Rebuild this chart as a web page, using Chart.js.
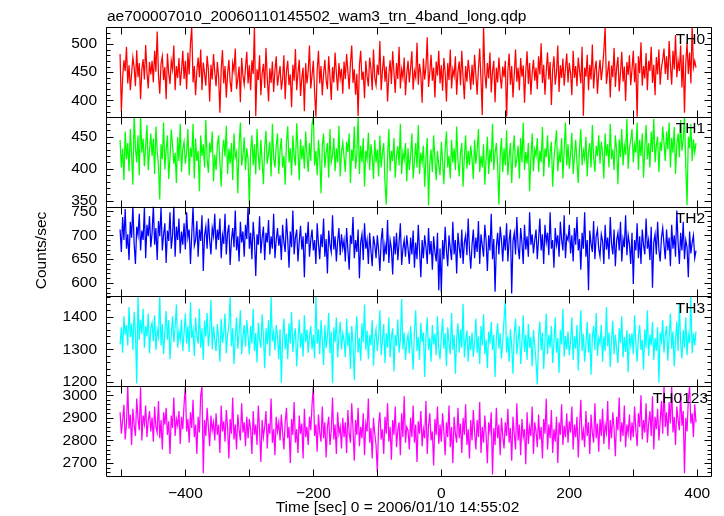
<!DOCTYPE html>
<html>
<head>
<meta charset="utf-8">
<title>ae700007010 wam3 trn 4band long</title>
<script src="https://cdn.jsdelivr.net/npm/chart.js@4.4.0/dist/chart.umd.min.js"></script>
<style>
  html, body { margin: 0; padding: 0; background: #fff; }
  #grafico { display: block; }
</style>
</head>
<body>
<canvas id="grafico" width="724" height="516"></canvas>
<script>
var titulo = 'ae700007010_20060110145502_wam3_trn_4band_long.qdp';
var rotuloX = 'Time [sec] 0 = 2006/01/10 14:55:02';
var rotuloY = 'Counts/sec';
var nomesBandas = ['TH0', 'TH1', 'TH2', 'TH3', 'TH0123'];

// first bin and bin width, sec
var tempoInicial = -502;
var passoTempo = 2;

var th0 = [
  482, 380, 440, 471, 452, 495, 430, 462, 418, 447, 476, 458, 425, 489, 441, 466, 402, 455, 473, 437, 498, 450, 421, 468, 446,
  470, 432, 488, 451, 522, 445, 412, 465, 478, 436, 459, 402, 483, 448, 429, 470, 455, 497, 418, 461, 440, 475, 426, 452, 488,
  438, 470, 420, 485, 446, 501, 530, 432, 461, 409, 452, 476, 441, 490, 418, 467, 448, 426, 479, 455, 398, 463, 437, 482, 450,
  425, 468, 442, 378, 455, 489, 430, 461, 405, 447, 472, 433, 415, 466, 452, 492, 420, 438, 460, 397, 475, 444, 428, 458, 486,
  430, 462, 418, 471, 447, 532, 372, 455, 436, 480, 409, 448, 465, 422, 493, 440, 398, 457, 431, 469, 415, 452, 478, 426, 444,
  461, 419, 438, 480, 402, 452, 470, 427, 446, 388, 463, 435, 491, 418, 449, 472, 408, 440, 458, 381, 466, 430, 452, 497, 421,
  445, 470, 415, 370, 452, 488, 430, 461, 409, 447, 472, 436, 420, 478, 443, 401, 459, 432, 485, 448, 417, 466, 439, 456, 412,
  469, 438, 482, 452, 420, 466, 497, 431, 455, 410, 447, 372, 462, 488, 436, 451, 404, 470, 443, 425, 476, 457, 418, 490, 440,
  427, 463, 445, 505, 418, 452, 479, 433, 460, 398, 446, 471, 429, 487, 450, 413, 466, 438, 495, 421, 455, 440, 476, 409, 448,
  470, 432, 458, 487, 419, 452, 441, 502, 428, 465, 446, 396, 474, 437, 460, 512, 424, 450, 481, 435, 458, 405, 469, 444, 488,
  430, 462, 417, 475, 449, 398, 466, 436, 490, 421, 455, 443, 478, 410, 452, 469, 427, 488, 440, 402, 461, 433, 472, 450, 419,
  463, 428, 481, 445, 410, 457, 492, 436, 374, 533, 448, 421, 466, 439, 485, 414, 452, 470, 397, 458, 432, 476, 443, 421, 460,
  441, 470, 366, 452, 483, 428, 461, 405, 446, 490, 433, 458, 418, 475, 442, 462, 396, 451, 487, 429, 466, 410, 449, 472, 435,
  458, 420, 478, 446, 501, 431, 463, 410, 452, 485, 437, 468, 392, 455, 478, 428, 449, 497, 415, 462, 440, 474, 426, 456, 483,
  432, 466, 448, 409, 488, 440, 461, 425, 476, 452, 430, 495, 373, 458, 442, 481, 418, 463, 437, 499, 421, 455, 470, 412, 449,
  472, 436, 458, 488, 530, 429, 451, 470, 405, 462, 441, 493, 424, 458, 477, 416, 449, 486, 433, 460, 399, 468, 445, 480, 427,
  455, 488, 432, 466, 368, 478, 448, 503, 426, 461, 439, 484, 418, 470, 452, 495, 431, 463, 409, 477, 446, 490, 428, 458, 472,
  492, 447, 478, 436, 505, 462, 428, 488, 455, 516, 441, 470, 452, 497, 423, 481, 378, 466, 502, 447, 485, 430, 535, 458, 470,
  458
];
var th1 = [
  445, 402, 431, 382, 458, 415, 440, 396, 462, 421, 375, 484, 433, 410, 452, 390, 482, 425, 447, 404, 436, 468, 398, 428, 455,
  420, 447, 392, 466, 428, 405, 352, 438, 415, 472, 399, 430, 452, 384, 418, 461, 436, 408, 425, 378, 449, 412, 470, 395, 431,
  442, 408, 425, 462, 390, 433, 418, 470, 385, 447, 412, 428, 365, 452, 420, 438, 402, 476, 415, 394, 441, 425, 458, 380, 422,
  398, 436, 452, 410, 372, 428, 445, 419, 467, 392, 431, 408, 440, 382, 455, 418, 426, 362, 438, 472, 405, 420, 449, 398, 432,
  415, 344, 428, 452, 405, 438, 391, 462, 420, 398, 445, 412, 376, 433, 459, 408, 425, 442, 388, 470, 416, 402, 436, 455, 392,
  428, 448, 402, 420, 375, 441, 466, 410, 432, 390, 452, 418, 405, 471, 428, 382, 446, 415, 436, 400, 458, 422, 395, 440, 412,
  470, 483, 405, 428, 390, 445, 418, 362, 436, 455, 402, 425, 440, 386, 462, 410, 421, 448, 396, 432, 410, 467, 388, 426, 441,
  418, 395, 442, 426, 455, 378, 430, 412, 466, 400, 421, 482, 392, 436, 410, 448, 372, 428, 415, 456, 398, 438, 420, 384, 445,
  410, 430, 388, 452, 402, 425, 440, 378, 344, 418, 462, 396, 428, 412, 448, 386, 420, 435, 405, 470, 392, 426, 414, 440, 380,
  432, 398, 420, 455, 385, 412, 440, 402, 468, 392, 425, 410, 436, 372, 418, 448, 343, 408, 430, 395, 452, 415, 382, 428, 405,
  390, 442, 412, 376, 430, 458, 402, 420, 385, 445, 410, 432, 398, 466, 414, 388, 425, 440, 372, 418, 452, 400, 428, 406, 436,
  415, 384, 445, 408, 428, 462, 395, 420, 402, 438, 375, 416, 450, 392, 430, 410, 470, 398, 425, 440, 405, 344, 422, 448, 395,
  432, 405, 460, 390, 418, 440, 378, 425, 452, 402, 415, 436, 385, 448, 410, 472, 398, 426, 408, 440, 365, 418, 455, 396, 430,
  420, 448, 395, 428, 410, 465, 388, 432, 418, 452, 402, 425, 442, 372, 415, 438, 460, 396, 425, 410, 448, 385, 430, 472, 405,
  438, 400, 422, 456, 392, 418, 445, 410, 378, 432, 462, 405, 428, 415, 450, 388, 426, 440, 402, 468, 418, 395, 436, 420, 452,
  408, 442, 425, 385, 455, 420, 438, 402, 470, 415, 430, 398, 452, 428, 376, 446, 418, 462, 405, 436, 422, 478, 400, 432, 445,
  462, 410, 438, 425, 472, 398, 445, 420, 455, 386, 432, 468, 415, 440, 402, 458, 426, 478, 410, 436, 450, 395, 442, 428, 466,
  440, 412, 458, 430, 472, 402, 448, 425, 465, 392, 438, 455, 418, 476, 428, 445, 483, 405, 343, 450, 432, 470, 412, 446, 425,
  440
];
var th2 = [
  712, 665, 738, 690, 755, 672, 702, 648, 728, 695, 762, 681, 640, 718, 700, 745, 668, 710, 690, 758, 652, 722, 698, 740, 675,
  705, 762, 680, 715, 648, 730, 698, 758, 668, 702, 725, 642, 710, 688, 748, 672, 700, 762, 655, 718, 690, 735, 662, 708, 680,
  725, 670, 748, 695, 712, 640, 702, 760, 678, 690, 730, 655, 712, 688, 742, 625, 700, 718, 672, 735, 690, 660, 715, 698, 745,
  670, 712, 690, 735, 652, 700, 682, 745, 660, 705, 722, 638, 690, 715, 675, 752, 668, 698, 645, 728, 685, 708, 655, 722, 692,
  760, 672, 705, 650, 728, 690, 615, 702, 680, 740, 662, 695, 718, 648, 705, 685, 732, 660, 698, 672, 745, 652, 690, 715, 678,
  700, 648, 722, 685, 665, 735, 690, 632, 708, 675, 752, 660, 695, 712, 645, 688, 720, 670, 698, 612, 705, 682, 728, 655, 690,
  712, 668, 690, 640, 725, 682, 650, 702, 675, 735, 655, 692, 620, 710, 680, 665, 742, 670, 698, 645, 688, 715, 658, 702, 672,
  690, 645, 715, 670, 628, 700, 682, 738, 652, 690, 665, 712, 610, 685, 702, 648, 725, 672, 690, 640, 705, 668, 635, 698, 680,
  652, 700, 668, 625, 690, 715, 645, 680, 660, 732, 642, 690, 672, 618, 698, 660, 705, 648, 685, 725, 638, 672, 690, 655, 700,
  672, 640, 695, 660, 710, 632, 685, 650, 722, 668, 612, 690, 652, 700, 675, 640, 715, 660, 688, 628, 698, 665, 645, 705, 585,
  672, 580, 690, 650, 718, 668, 635, 700, 672, 648, 728, 660, 690, 620, 705, 675, 652, 712, 640, 685, 700, 658, 735, 668, 630,
  680, 712, 652, 695, 665, 730, 640, 702, 678, 655, 722, 688, 625, 700, 668, 745, 650, 692, 582, 676, 705, 660, 718, 690, 645,
  700, 668, 725, 645, 690, 712, 578, 688, 705, 660, 738, 675, 650, 715, 685, 640, 722, 670, 698, 655, 748, 680, 702, 662, 690,
  712, 650, 692, 735, 668, 702, 640, 722, 685, 705, 658, 748, 672, 690, 632, 715, 680, 700, 655, 728, 690, 668, 742, 652, 698,
  690, 722, 662, 700, 645, 715, 680, 738, 668, 692, 628, 705, 672, 748, 655, 690, 585, 710, 682, 665, 730, 650, 698, 712, 672,
  655, 702, 688, 640, 722, 670, 695, 650, 738, 682, 660, 712, 635, 690, 705, 668, 728, 645, 692, 675, 742, 658, 700, 682, 640,
  705, 598, 690, 668, 725, 652, 698, 640, 712, 680, 660, 735, 672, 690, 648, 718, 590, 685, 702, 660, 728, 670, 645, 695, 715,
  680, 650, 712, 668, 695, 635, 722, 672, 700, 655, 752, 685, 640, 705, 668, 728, 650, 690, 675, 612, 708, 662, 685, 700, 652,
  668
];
var th3 = [
  1315, 1368, 1290, 1402, 1345, 1375, 1312, 1430, 1338, 1380, 1298, 1415, 1352, 1195, 1462, 1330, 1392, 1348, 1425, 1305, 1372, 1340, 1410, 1288, 1365,
  1382, 1325, 1405, 1298, 1360, 1338, 1465, 1312, 1378, 1285, 1352, 1418, 1330, 1390, 1270, 1345, 1402, 1322, 1368, 1438, 1305, 1355, 1330, 1392, 1295,
  1350, 1410, 1318, 1372, 1292, 1445, 1335, 1360, 1280, 1398, 1342, 1318, 1425, 1305, 1365, 1268, 1388, 1340, 1412, 1310, 1355, 1452, 1300, 1370, 1330,
  1295, 1378, 1335, 1262, 1395, 1320, 1350, 1410, 1288, 1345, 1372, 1462, 1310, 1365, 1255, 1338, 1398, 1302, 1352, 1420, 1285, 1340, 1375, 1308, 1390,
  1340, 1285, 1372, 1318, 1425, 1295, 1350, 1260, 1382, 1330, 1305, 1408, 1342, 1242, 1365, 1315, 1390, 1280, 1462, 1325, 1352, 1298, 1375, 1340, 1270,
  1362, 1198, 1335, 1395, 1300, 1348, 1270, 1380, 1318, 1415, 1292, 1340, 1365, 1248, 1328, 1392, 1305, 1350, 1278, 1405, 1322, 1360, 1290, 1342, 1372,
  1300, 1345, 1272, 1462, 1318, 1362, 1285, 1390, 1330, 1252, 1375, 1305, 1340, 1412, 1288, 1355, 1196, 1368, 1322, 1398, 1275, 1338, 1385, 1300, 1350,
  1328, 1275, 1395, 1310, 1352, 1240, 1372, 1318, 1205, 1345, 1402, 1290, 1335, 1265, 1380, 1322, 1438, 1298, 1358, 1270, 1345, 1312, 1390, 1250, 1335,
  1362, 1295, 1340, 1420, 1282, 1330, 1378, 1258, 1350, 1305, 1398, 1275, 1338, 1365, 1232, 1345, 1310, 1392, 1290, 1328, 1455, 1300, 1352, 1268, 1322,
  1345, 1288, 1372, 1310, 1238, 1355, 1420, 1295, 1338, 1268, 1382, 1322, 1352, 1215, 1340, 1398, 1298, 1335, 1262, 1375, 1315, 1348, 1282, 1402, 1305,
  1270, 1338, 1395, 1302, 1350, 1248, 1368, 1320, 1285, 1412, 1298, 1345, 1225, 1335, 1380, 1290, 1362, 1305, 1440, 1275, 1330, 1358, 1262, 1342, 1298,
  1352, 1278, 1320, 1395, 1290, 1340, 1255, 1372, 1312, 1408, 1285, 1330, 1242, 1355, 1318, 1385, 1298, 1345, 1215, 1338, 1380, 1302, 1350, 1272, 1328,
  1390, 1452, 1290, 1340, 1262, 1362, 1310, 1225, 1348, 1395, 1285, 1330, 1372, 1255, 1318, 1405, 1292, 1345, 1268, 1378, 1305, 1338, 1248, 1360, 1312,
  1262, 1192, 1340, 1385, 1298, 1352, 1240, 1328, 1410, 1285, 1345, 1305, 1372, 1258, 1320, 1398, 1290, 1335, 1228, 1360, 1315, 1425, 1278, 1342, 1300,
  1355, 1282, 1325, 1398, 1268, 1340, 1302, 1375, 1235, 1330, 1420, 1295, 1348, 1262, 1315, 1385, 1290, 1350, 1222, 1338, 1372, 1298, 1412, 1280, 1335,
  1318, 1375, 1262, 1340, 1295, 1430, 1310, 1352, 1245, 1328, 1388, 1285, 1345, 1302, 1258, 1365, 1320, 1402, 1275, 1338, 1292, 1360, 1230, 1348, 1312,
  1350, 1285, 1405, 1318, 1262, 1340, 1375, 1298, 1330, 1238, 1362, 1305, 1420, 1280, 1345, 1312, 1385, 1268, 1335, 1295, 1368, 1198, 1352, 1325, 1390,
  1290, 1345, 1372, 1265, 1338, 1410, 1302, 1355, 1248, 1330, 1385, 1295, 1440, 1318, 1272, 1360, 1305, 1398, 1282, 1345, 1320, 1462, 1288, 1350, 1312,
  1355
];
var th0123 = [
  2925, 2830, 2890, 2958, 2805, 2875, 3040, 2852, 2915, 2780, 2940, 2868, 2820, 2985, 2895, 2845, 3035, 2800, 2910, 2872, 2955, 2815, 2888, 2930, 2840,
  2902, 2795, 2950, 2860, 2835, 2975, 2810, 2890, 2760, 2925, 2870, 2945, 2825, 2885, 2740, 2910, 2855, 2990, 2820, 2895, 2865, 2930, 2785, 2905, 2850,
  2960, 3040, 2840, 2895, 2790, 2925, 2855, 2980, 2815, 2870, 2740, 2905, 2835, 3000, 3038, 2655, 2890, 2820, 2945, 2860, 2775, 2910, 2845, 2880, 2800,
  2920, 2825, 2870, 2745, 2955, 2840, 2885, 2795, 2935, 2860, 2720, 2895, 2830, 2990, 2805, 2870, 2760, 2915, 2848, 2800, 2965, 2835, 2880, 2775, 2905,
  2810, 2895, 2850, 2740, 2930, 2825, 2870, 2780, 2955, 2845, 2705, 2890, 2815, 2860, 2930, 2765, 2875, 2830, 2985, 2790, 2850, 2735, 2905, 2840, 2880,
  2800, 2915, 2835, 2760, 2880, 2945, 2810, 2860, 2700, 2895, 2825, 2970, 2790, 2850, 2745, 2910, 2830, 2875, 2720, 2940, 2815, 2860, 2780, 2905, 2845,
  2960, 3040, 2820, 2870, 2750, 2915, 2835, 2795, 2950, 2810, 2880, 2725, 2860, 2905, 2780, 2845, 2990, 2805, 2870, 2740, 2925, 2830, 2860, 2765, 2900,
  2815, 2880, 2745, 2935, 2830, 2790, 2965, 2850, 2710, 2890, 2825, 2945, 2775, 2860, 2810, 2920, 2735, 2875, 2840, 2985, 2790, 2855, 2720, 2900, 2830,
  2780, 2660, 2870, 2925, 2805, 2850, 2740, 2905, 2830, 2965, 2795, 2860, 2715, 2890, 2825, 2950, 2770, 2845, 2880, 2735, 2920, 2815, 2995, 2790, 2860,
  2845, 2760, 2900, 2815, 2955, 2790, 2870, 2705, 2885, 2830, 2930, 2775, 2850, 2810, 2975, 2740, 2865, 2920, 2800, 2840, 2690, 2895, 2825, 2950, 2785,
  2870, 2795, 2920, 2840, 2735, 2880, 2815, 2955, 2770, 2860, 2700, 2905, 2830, 2790, 2945, 2810, 2875, 2745, 2900, 2825, 2960, 2780, 2850, 2720, 2890,
  2800, 2935, 2835, 2760, 2890, 2815, 2970, 2745, 2860, 2790, 2910, 2825, 2700, 2880, 2840, 2925, 2650, 2855, 2780, 2945, 2810, 2870, 2735, 2900, 2820,
  2765, 2880, 2820, 2940, 2790, 2855, 2710, 2905, 2830, 2760, 2965, 2800, 2870, 2735, 2895, 2815, 2850, 2695, 2925, 2785, 2860, 2820, 2950, 2740, 2880,
  2840, 2770, 2915, 2805, 2860, 2720, 2895, 2830, 2985, 2760, 2870, 2810, 2935, 2745, 2850, 2795, 2905, 2700, 2880, 2825, 2960, 2780, 2865, 2815, 2920,
  2790, 2885, 2835, 2950, 2760, 2870, 2815, 2905, 2725, 2860, 2980, 2800, 2845, 2770, 2930, 2820, 2880, 2740, 2915, 2835, 2790, 2965, 2810, 2875, 2750,
  2895, 2820, 2940, 2785, 2870, 2835, 2975, 2760, 2890, 2810, 2925, 2850, 2730, 2905, 2845, 2990, 2795, 2880, 2820, 2955, 2770, 2870, 2830, 2915, 2800,
  2880, 2815, 2950, 2845, 2775, 2920, 2860, 3000, 2805, 2890, 2835, 2965, 2790, 2875, 2930, 2820, 2995, 2760, 2905, 2850, 2940, 2800, 2885, 2975, 2830,
  3040, 2860, 2925, 2820, 2970, 2875, 3040, 2835, 2905, 2780, 2950, 2890, 2845, 3010, 2865, 2930, 2655, 2900, 2840, 2980, 3040, 2875, 2920, 2815, 2960,
  2880
];

// axis ranges and tick steps of each panel
var limiteX = [-524, 423];
var limitesY = [[371, 530], [341, 481], [572, 760], [1187, 1463], [2643, 3040]];
var passoMaior = [50, 50, 50, 100, 100];
var passoMenor = [10, 10, 10, 20, 20];

var series = [th0, th1, th2, th3, th0123];
var cores = ['#ff0000', '#00ff00', '#0000ff', '#00ffff', '#ff00ff'];
var fonte = '"Liberation Sans", Arial, Helvetica, sans-serif';

function pontos(valores) {
  var lista = [];
  for (var i = 0; i < valores.length; i++) {
    lista.push({ x: tempoInicial + i * passoTempo, y: valores[i] });
  }
  return lista;
}

function ticksDoPainel(p) {
  var lista = [];
  var v = Math.ceil(limitesY[p][0] / passoMaior[p]) * passoMaior[p];
  for (; v <= limitesY[p][1]; v += passoMaior[p]) lista.push({ value: v });
  return lista;
}

var datasets = [];
var scales = {
  x: {
    type: 'linear',
    position: 'bottom',
    min: limiteX[0],
    max: limiteX[1],
    grid: { display: false, drawTicks: false },
    border: { display: false },
    ticks: {
      stepSize: 200,
      includeBounds: false,
      padding: 8,
      color: '#000',
      font: { family: fonte, size: 15.5 },
      maxRotation: 0,
      callback: function (v) { return String(v).replace('-', '\u2212'); }
    },
    afterFit: function (s) { s.height = 40; }
  }
};

for (var p = 0; p < 5; p++) {
  datasets.push({
    label: nomesBandas[p],
    data: pontos(series[p]),
    yAxisID: 'y' + p,
    borderColor: cores[p],
    borderWidth: 1.25,
    pointRadius: 0,
    tension: 0
  });
  scales['y' + p] = {
    type: 'linear',
    position: 'left',
    stack: 'paineis',
    stackWeight: 1,
    weight: 5 - p,
    min: limitesY[p][0],
    max: limitesY[p][1],
    grid: { display: false, drawTicks: false },
    border: { display: false },
    ticks: {
      autoSkip: false,
      padding: 9,
      color: '#000',
      font: { family: fonte, size: 15.5 },
      callback: function (v) { return String(v); }
    },
    afterBuildTicks: (function (indice) {
      return function (s) { s.ticks = ticksDoPainel(indice); };
    })(p),
    afterFit: function (s) { s.width = 106; }
  };
}

// clip each band to its own panel
var recorte = {
  id: 'recorte',
  beforeDatasetDraw: function (chart, args) {
    var s = chart.scales['y' + args.index];
    var a = chart.chartArea;
    chart.ctx.save();
    chart.ctx.beginPath();
    chart.ctx.rect(a.left, s.top, a.right - a.left, s.bottom - s.top);
    chart.ctx.clip();
  },
  afterDatasetDraw: function (chart) {
    chart.ctx.restore();
  }
};

// frames, inward ticks and texts
var molduras = {
  id: 'molduras',
  afterDraw: function (chart) {
    var ctx = chart.ctx;
    var a = chart.chartArea;
    var sx = chart.scales.x;
    var esq = Math.round(a.left) + 0.5;
    var dir = Math.round(a.right) - 0.5;
    ctx.save();
    ctx.strokeStyle = '#000';
    ctx.lineWidth = 1;
    for (var p = 0; p < 5; p++) {
      var s = chart.scales['y' + p];
      var topo = Math.round(s.top) + 0.5;
      var base = Math.round(s.bottom) + 0.5;
      ctx.beginPath();
      ctx.moveTo(esq, topo); ctx.lineTo(dir, topo);
      ctx.moveTo(esq, base); ctx.lineTo(dir, base);
      ctx.moveTo(esq, topo); ctx.lineTo(esq, base);
      ctx.moveTo(dir, topo); ctx.lineTo(dir, base);
      var v0 = Math.ceil(s.min / passoMenor[p]) * passoMenor[p];
      for (var v = v0; v <= s.max; v += passoMenor[p]) {
        var y = Math.round(s.getPixelForValue(v)) + 0.5;
        var len = (v % passoMaior[p] === 0) ? 7 : 4;
        ctx.moveTo(esq, y); ctx.lineTo(esq + len, y);
        ctx.moveTo(dir, y); ctx.lineTo(dir - len, y);
      }
      for (var t = -500; t <= 400; t += 100) {
        var x = Math.round(sx.getPixelForValue(t)) + 0.5;
        ctx.moveTo(x, topo); ctx.lineTo(x, topo + 7);
        ctx.moveTo(x, base); ctx.lineTo(x, base - 7);
      }
      ctx.stroke();
      ctx.fillStyle = '#000';
      ctx.font = '15.5px ' + fonte;
      ctx.textAlign = 'right';
      ctx.textBaseline = 'alphabetic';
      ctx.fillText(nomesBandas[p], p === 4 ? 708 : 705, s.top + 16.5);
    }
    ctx.fillStyle = '#000';
    ctx.font = '15.5px ' + fonte;
    ctx.textAlign = 'left';
    ctx.textBaseline = 'alphabetic';
    ctx.fillText(titulo, 107, 20.5);
    ctx.textAlign = 'center';
    ctx.fillText(rotuloX, 397.5, 512);
    ctx.translate(45.5, 250.5);
    ctx.rotate(-Math.PI / 2);
    ctx.fillText(rotuloY, 0, 0);
    ctx.restore();
  }
};

const ctx = document.getElementById('grafico');

const grafico = new Chart(ctx, {
  type: 'line',
  data: { datasets: datasets },
  options: {
    responsive: false,
    animation: false,
    devicePixelRatio: 1,
    layout: { padding: { top: 27, right: 12, bottom: 0, left: 0 } },
    plugins: {
      legend: { display: false },
      title: { display: false },
      tooltip: { enabled: false }
    },
    scales: scales
  },
  plugins: [recorte, molduras]
});
</script>
</body>
</html>
